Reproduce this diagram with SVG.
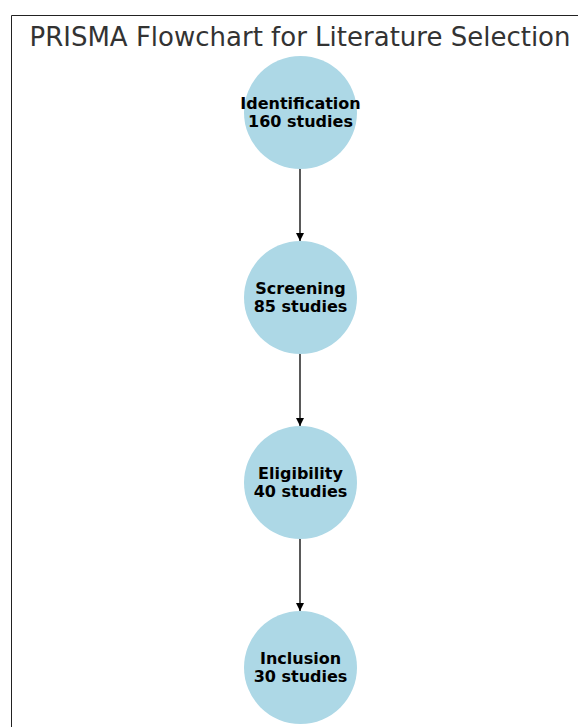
<svg xmlns="http://www.w3.org/2000/svg" width="578" height="727" viewBox="0 0 578 727">
<style>
.title{font-family:"DejaVu Sans",sans-serif;font-size:26px;fill:#333333}
.lbl{font-family:"DejaVu Sans",sans-serif;font-size:16px;font-weight:bold;fill:#000;text-anchor:middle}
.node{fill:#add8e6}
.edge{stroke:#000;stroke-width:1.3;fill:none}
</style>
<defs>
<marker id="arr" viewBox="0 0 10 10" refX="10" refY="5" markerWidth="8" markerHeight="8" markerUnits="userSpaceOnUse" orient="auto">
<path d="M0,0 L10,5 L0,10 z" fill="#000"/>
</marker>
</defs>
<rect width="578" height="727" fill="#fff"/>
<path d="M11.5,727 V15.5 H578" fill="none" stroke="#222" stroke-width="1"/>
<text class="title" x="300" y="46" text-anchor="middle">PRISMA Flowchart for Literature Selection</text>
<g id="connectors">
<line class="edge" x1="300" y1="168" x2="300" y2="241" marker-end="url(#arr)"/>
<line class="edge" x1="300" y1="353" x2="300" y2="426" marker-end="url(#arr)"/>
<line class="edge" x1="300" y1="538" x2="300" y2="611" marker-end="url(#arr)"/>
</g>
<g id="identification">
<circle class="node" cx="300.5" cy="112.5" r="56.5"/>
<text class="lbl" x="300.5" y="108.5">Identification</text>
<text class="lbl" x="300.5" y="126.5">160 studies</text>
</g>
<g id="screening">
<circle class="node" cx="300.5" cy="297.5" r="56.5"/>
<text class="lbl" x="300.5" y="293.5">Screening</text>
<text class="lbl" x="300.5" y="311.5">85 studies</text>
</g>
<g id="eligibility">
<circle class="node" cx="300.5" cy="482.5" r="56.5"/>
<text class="lbl" x="300.5" y="478.5">Eligibility</text>
<text class="lbl" x="300.5" y="496.5">40 studies</text>
</g>
<g id="inclusion">
<circle class="node" cx="300.5" cy="667.5" r="56.5"/>
<text class="lbl" x="300.5" y="663.5">Inclusion</text>
<text class="lbl" x="300.5" y="681.5">30 studies</text>
</g>
</svg>
